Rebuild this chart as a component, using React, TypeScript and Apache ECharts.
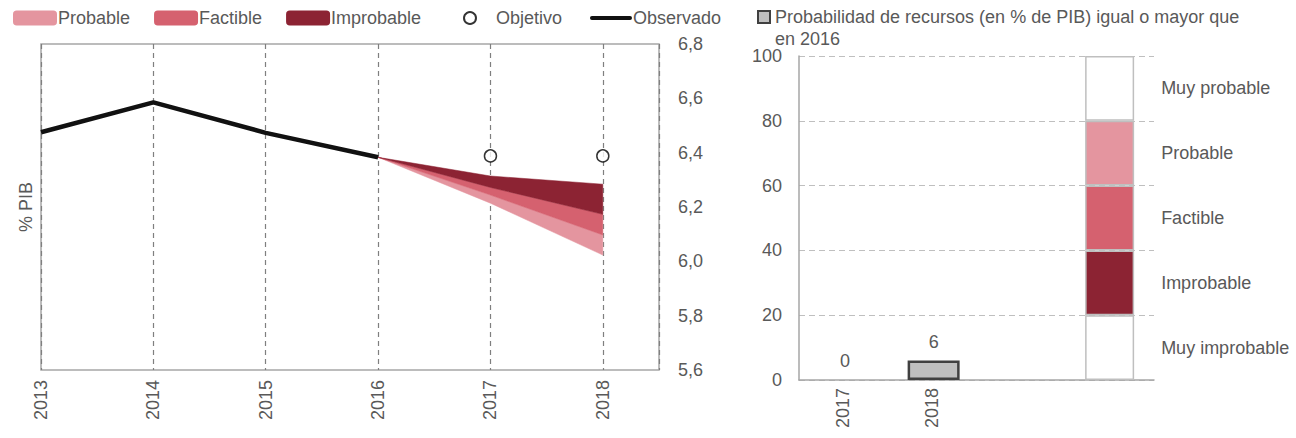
import React, { useEffect, useRef } from "react";
import * as echarts from "echarts";

// ---- Left chart data ----
const observedYears = [2013, 2014, 2015, 2016];
const observed = [6.475, 6.585, 6.473, 6.383];
const objetivoYears = [2017, 2018];
const objetivo = [6.388, 6.388];
const fanYears = [2016, 2017, 2018];
const fanTop = [6.383, 6.314, 6.284];
const improbableBottom = [6.383, 6.272, 6.173];
const factibleBottom = [6.383, 6.244, 6.097];
const probableBottom = [6.383, 6.214, 6.023];

// ---- Right chart data ----
const probCategories = ["2017", "2018", "", ""];
const probValues = [0, 6];
const scaleSegments = [20, 20, 20, 20, 20];
const scaleLabels = ["Muy improbable", "Improbable", "Factible", "Probable", "Muy probable"];

const LIGHT = "#e4959f";
const MID = "#d5616f";
const DARK = "#8c2333";
const scaleColors = ["#ffffff", DARK, MID, LIGHT, "#ffffff"];
const TXT = "#595959";
const FONT = "Liberation Sans, Arial, sans-serif";
const probName = "Probabilidad de recursos (en % de PIB) igual o mayor que";
const probName2 = "en 2016";

export default function App() {
  const ref = useRef<HTMLDivElement>(null);
  useEffect(() => {
    if (!ref.current) return;
    const chart = echarts.init(ref.current, null, { renderer: "svg" });
    const pts = (xs: number[], ys: number[]) => xs.map((x, i) => [x, ys[i]]);
    const band = (name: string, color: string, lower: number[], upper: number[]) => ({
      name,
      type: "custom",
      xAxisIndex: 0,
      yAxisIndex: 0,
      itemStyle: { color },
      encode: { x: 0, y: [1, 2] },
      data: fanYears.map((x, i) => [x, lower[i], upper[i]]),
      renderItem: (params: any, api: any) => {
        if (params.dataIndex !== 0) return null;
        const up = fanYears.map((x, i) => api.coord([x, upper[i]]));
        const lo = fanYears.map((x, i) => api.coord([x, lower[i]])).reverse();
        return {
          type: "polygon",
          shape: { points: [...up, ...lo] },
          style: { fill: color, stroke: color, lineWidth: 0.5 },
        };
      },
      z: 2,
    });
    const colSeries = scaleSegments.map((v, i) => ({
      name: "seg" + i,
      type: "bar",
      xAxisIndex: 1,
      yAxisIndex: 2,
      stack: "col",
      barWidth: 49,
      barGap: "-100%",
      itemStyle: { color: scaleColors[i], borderColor: "#bfbfbf", borderWidth: 1.5 },
      label: {
        show: true,
        position: "right",
        distance: 27,
        formatter: () => scaleLabels[i],
        color: TXT,
        fontSize: 18,
        fontFamily: FONT,
      },
      data: probCategories.map((_, j) => (j === 3 ? v : "-")),
      z: 3,
    }));
    const legendText = { fontSize: 18, color: TXT, fontFamily: FONT, padding: [0, 0, 0, -4] };
    const option: any = {
      animation: false,
      textStyle: { fontFamily: FONT, color: TXT },
      legend: [
        {
          left: 13,
          top: 9,
          padding: 0,
          itemWidth: 44,
          itemHeight: 15,
          itemGap: 24,
          selectedMode: false,
          textStyle: legendText,
          data: [
            { name: "Probable", icon: "roundRect" },
            { name: "Factible", icon: "roundRect" },
            { name: "Improbable", icon: "roundRect" },
          ],
        },
        {
          left: 463,
          top: 9,
          padding: 0,
          itemWidth: 42,
          itemHeight: 12,
          selectedMode: false,
          textStyle: { fontSize: 18, color: TXT, fontFamily: FONT },
          data: [{ name: "Objetivo", icon: "circle" }],
        },
        {
          left: 590,
          top: 9,
          padding: 0,
          itemWidth: 42,
          itemHeight: 15,
          selectedMode: false,
          textStyle: legendText,
          data: [
            {
              name: "Observado",
              icon: "path://M0,0 L0.01,0 M0,15 L0.01,15 M2,5.5 L42,5.5 A2,2 0 0 1 42,9.5 L2,9.5 A2,2 0 0 1 2,5.5 Z",
            },
          ],
        },
        {
          left: 757,
          top: 8,
          padding: 0,
          itemWidth: 12,
          itemHeight: 12,
          selectedMode: false,
          textStyle: { fontSize: 18, color: TXT, fontFamily: FONT },
          data: [{ name: probName, icon: "rect" }],
        },
      ],
      graphic: [
        {
          type: "text",
          left: 775,
          top: 30,
          style: { text: probName2, fontSize: 18, fill: TXT, fontFamily: FONT },
        },
      ],
      grid: [
        { left: 41, right: 637, top: 44, bottom: 68, show: true, borderColor: "#a6a6a6", borderWidth: 1.5 },
        { left: 799, right: 142, top: 56, bottom: 58 },
      ],
      xAxis: [
        {
          type: "value",
          gridIndex: 0,
          min: 2013,
          max: 2018.5,
          interval: 1,
          axisLine: { show: false },
          axisTick: { show: false },
          splitLine: { show: true, lineStyle: { color: "#7f7f7f", type: [5, 4], width: 1.2 } },
          axisLabel: {
            rotate: 90,
            margin: 10,
            fontSize: 18,
            color: TXT,
            fontFamily: FONT,
            showMaxLabel: false,
            formatter: (v: number) => (Number.isInteger(v) ? String(v) : ""),
          },
        },
        {
          type: "category",
          gridIndex: 1,
          data: probCategories,
          axisLine: { show: true, lineStyle: { color: "#a6a6a6", width: 1.5 } },
          axisTick: { show: false },
          axisLabel: { rotate: 90, margin: 8, fontSize: 18, color: TXT, fontFamily: FONT },
        },
      ],
      yAxis: [
        {
          type: "value",
          gridIndex: 0,
          position: "right",
          min: 5.6,
          max: 6.8,
          interval: 0.2,
          axisLine: { show: false },
          axisTick: { show: false },
          splitLine: { show: false },
          axisLabel: {
            margin: 19,
            fontSize: 18,
            color: TXT,
            fontFamily: FONT,
            formatter: (v: number) => v.toFixed(1).replace(".", ","),
          },
        },
        {
          type: "value",
          gridIndex: 0,
          position: "left",
          min: 5.6,
          max: 6.8,
          interval: 0.2,
          name: "% PIB",
          nameLocation: "middle",
          nameGap: 6,
          nameTextStyle: { fontSize: 18, color: TXT, fontFamily: FONT },
          axisLine: { show: false },
          axisTick: { show: false },
          splitLine: { show: false },
          axisLabel: { show: false },
        },
        {
          type: "value",
          gridIndex: 1,
          min: 0,
          max: 100,
          interval: 20,
          axisLine: { show: true, lineStyle: { color: "#a6a6a6", width: 1.5 } },
          axisTick: { show: false },
          splitLine: { show: true, lineStyle: { color: "#bfbfbf", type: [6, 4], width: 1.2 } },
          axisLabel: { margin: 17, fontSize: 18, color: TXT, fontFamily: FONT },
        },
      ],
      series: [
        band("Probable", LIGHT, probableBottom, factibleBottom),
        band("Factible", MID, factibleBottom, improbableBottom),
        band("Improbable", DARK, improbableBottom, fanTop),
        {
          name: "Observado",
          type: "line",
          xAxisIndex: 0,
          yAxisIndex: 0,
          symbol: "none",
          color: "#111111",
          lineStyle: { width: 4.5, color: "#111111" },
          data: pts(observedYears, observed),
          z: 5,
        },
        {
          name: "Objetivo",
          type: "scatter",
          xAxisIndex: 0,
          yAxisIndex: 0,
          symbol: "circle",
          symbolSize: 12,
          itemStyle: { color: "#ffffff", borderColor: "#000000", borderWidth: 1.5 },
          data: pts(objetivoYears, objetivo),
          z: 6,
        },
        {
          name: probName,
          type: "bar",
          xAxisIndex: 1,
          yAxisIndex: 2,
          barWidth: 52,
          barGap: "-100%",
          itemStyle: { color: "#bfbfbf", borderColor: "#404040", borderWidth: 2.5 },
          label: { show: true, position: "top", distance: 10, fontSize: 18, color: TXT, fontFamily: FONT },
          data: probCategories.map((_, j) =>
            j < probValues.length
              ? probValues[j] === 0
                ? { value: 0, itemStyle: { borderWidth: 0 } }
                : probValues[j]
              : "-"
          ),
          z: 4,
        },
        ...colSeries,
      ],
    };
    chart.setOption(option);
    return () => chart.dispose();
  }, []);
  return <div ref={ref} style={{ width: 1296, height: 438, position: "absolute", left: 0, top: 0 }} />;
}
